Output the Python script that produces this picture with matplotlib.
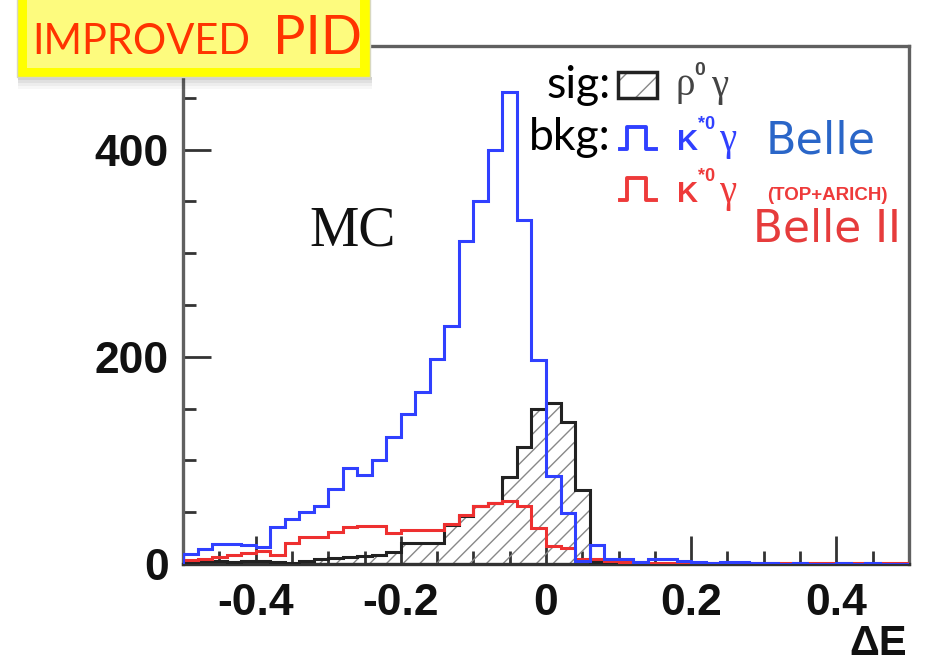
import numpy as np
import matplotlib
matplotlib.use('Agg')
import matplotlib.pyplot as plt
from matplotlib.patches import Rectangle
from matplotlib.lines import Line2D

# 50 bins of width 0.02 from -0.5 to 0.5
edges = np.round(np.linspace(-0.5, 0.5, 51), 3)

# signal rho0 gamma (black, hatched)
sig = [2, 3, 3, 2, 3, 3, 2, 1, 3, 5,
       6, 7, 8, 9, 12, 20, 20, 20, 38, 46,
       56, 59, 84, 113, 150, 155, 137, 71, 2, 1,
       1, 0, 0, 0, 0, 0, 0, 0, 0, 0,
       0, 0, 0, 0, 0, 0, 0, 0, 0, 0]

# background K*0 gamma, Belle PID (blue)
bkg_belle = [10, 14, 19, 19, 18, 16, 36, 43, 50, 56,
             72, 93, 86, 100, 123, 145, 166, 198, 230, 312,
             350, 400, 456, 332, 197, 85, 49, 3, 18, 5,
             5, 2, 5, 5, 3, 2, 1, 2, 2, 1,
             1, 0, 1, 0, 0, 1, 0, 1, 0, 0]

# background K*0 gamma, Belle II PID (red)
bkg_belle2 = [4, 5, 7, 9, 11, 13, 9, 20, 26, 26,
              31, 36, 37, 37, 30, 33, 33, 33, 39, 47,
              56, 59, 61, 56, 35, 17, 15, 5, 5, 3,
              2, 2, 1, 1, 1, 1, 1, 1, 1, 1,
              1, 1, 1, 1, 1, 1, 1, 1, 1, 1]

W, H = 927, 663
fig = plt.figure(figsize=(W / 100, H / 100), dpi=100)
ax = fig.add_axes([183 / W, 1 - 564 / H, (909 - 183) / W, (564 - 46) / H])


def px(x, y):
    # pixel position (from top-left) to figure fraction
    return x / W, 1 - y / H


# histograms
ax.stairs(sig, edges, fill=True, facecolor='none', edgecolor='#888888',
          hatch='//', linewidth=0, zorder=2)
ax.stairs(sig, edges, color='#222222', linewidth=2.2, zorder=3)
ax.stairs(bkg_belle2, edges, color='#ee3030', linewidth=2.2, zorder=4)
ax.stairs(bkg_belle, edges, color='#3040ff', linewidth=2.2, zorder=5)

ax.set_xlim(-0.5, 0.5)
ax.set_ylim(0, 500)
ax.set_xticks([-0.4, -0.2, 0, 0.2, 0.4])
ax.set_xticklabels(['-0.4', '-0.2', '0', '0.2', '0.4'])
ax.set_xticks(np.arange(-0.45, 0.5, 0.05), minor=True)
ax.set_yticks([0, 200, 400])
ax.set_yticks(np.arange(0, 501, 50), minor=True)

for s in ax.spines.values():
    s.set_color('#606060')
    s.set_linewidth(2.4)
ax.spines['bottom'].set_color('#333333')

ax.tick_params(which='both', direction='in', color='#333333', width=2,
               top=False, right=False)
ax.tick_params(which='major', length=20)
ax.tick_params(which='minor', length=9.5)
ax.tick_params(axis='x', which='major', pad=14)
ax.tick_params(axis='y', which='major', pad=10)
for lab in ax.get_xticklabels() + ax.get_yticklabels():
    lab.set_fontfamily('Liberation Sans')
    lab.set_fontweight('bold')
    lab.set_fontsize(32)
    lab.set_color('#111111')

fig.text(*px(907, 655), 'ΔE', ha='right', va='baseline',
         fontfamily='Liberation Sans', fontweight='bold', fontsize=30,
         color='#111111')

# MC label
fig.text(*px(309, 245), 'MC', ha='left', va='baseline',
         fontfamily='Liberation Serif', fontsize=40, color='#111111')

# legend
fig.text(*px(611, 98), 'sig:', ha='right', va='baseline',
         fontfamily='Lato', fontsize=32, color='black')
fig.text(*px(611, 150), 'bkg:', ha='right', va='baseline',
         fontfamily='Lato', fontsize=32, color='black')

x0, y0 = px(618, 98)
x1, y1 = px(657, 72)
fig.add_artist(Rectangle((x0, y0), x1 - x0, y1 - y0, transform=fig.transFigure,
                         facecolor='white', edgecolor='#888888', hatch='/',
                         linewidth=0, zorder=5))
fig.add_artist(Rectangle((x0, y0), x1 - x0, y1 - y0, transform=fig.transFigure,
                         facecolor='none', edgecolor='#222222',
                         linewidth=2.5, zorder=6))
fig.text(*px(676, 95), 'ρ', ha='left', va='baseline',
         fontfamily='Liberation Serif', fontsize=28, color='#444444')
fig.text(*px(694, 75), '0', ha='left', va='baseline',
         fontfamily='Liberation Sans', fontweight='bold', fontsize=14,
         color='#444444')
fig.text(*px(711, 96), 'γ', ha='left', va='baseline',
         fontfamily='Liberation Serif', fontsize=28, color='#444444')


def pulse(ytop, ybot, color):
    xs = [620, 627, 627, 646, 646, 656]
    ys = [ybot, ybot, ytop, ytop, ybot, ybot]
    fx = [x / W for x in xs]
    fy = [1 - y / H for y in ys]
    fig.add_artist(Line2D(fx, fy, transform=fig.transFigure, color=color,
                          linewidth=2.8, zorder=6))


def kstar(y, color):
    fig.text(*px(677, y), 'K', ha='left', va='baseline',
             fontfamily='Liberation Sans', fontweight='bold', fontsize=21,
             color=color)
    fig.text(*px(698, y - 21), '*0', ha='left', va='baseline',
             fontfamily='Liberation Sans', fontweight='bold', fontsize=13,
             color=color)
    fig.text(*px(719, y), 'γ', ha='left', va='baseline',
             fontfamily='Liberation Serif', fontsize=28, color=color)


pulse(127, 149, '#3040ff')
kstar(150, '#3040ff')
fig.text(*px(766, 153), 'Belle', ha='left', va='baseline',
         fontfamily='DejaVu Sans', fontsize=32, color='#2a66c8')

pulse(178, 200, '#ee3a3a')
kstar(202, '#ee3a3a')
fig.text(*px(767, 200), '(TOP+ARICH)', ha='left', va='baseline',
         fontfamily='Liberation Sans', fontweight='bold', fontsize=13.5,
         color='#ee3a3a')
fig.text(*px(901, 242), 'Belle II', ha='right', va='baseline',
         fontfamily='DejaVu Sans', fontsize=31.5, color='#e63c3c')

# yellow "IMPROVED PID" box on top of the frame
for i, a in enumerate([0.18, 0.12, 0.07, 0.03]):
    sx, sy = px(18, 77 + 3 * i + 3)
    ex, ey = px(372, 77 + 3 * i)
    fig.add_artist(Rectangle((sx, sy), ex - sx, ey - sy, transform=fig.transFigure,
                             facecolor='black', alpha=a, linewidth=0, zorder=7))
ox0, oy0 = px(17, 77)
ox1, oy1 = px(370, -5)
fig.add_artist(Rectangle((ox0, oy0), ox1 - ox0, oy1 - oy0, transform=fig.transFigure,
                         facecolor='#ffff00', edgecolor='#d8d8c0',
                         linewidth=1, zorder=8))
ix0, iy0 = px(27, 68)
ix1, iy1 = px(360, -5)
fig.add_artist(Rectangle((ix0, iy0), ix1 - ix0, iy1 - iy0, transform=fig.transFigure,
                         facecolor='#fdfb7e', linewidth=0, zorder=9))
fig.text(*px(32, 54), 'IMPROVED', ha='left', va='baseline',
         fontfamily='Lato', fontsize=30, color='#ff3300', zorder=10)
fig.text(*px(273, 54), 'PID', ha='left', va='baseline',
         fontfamily='Lato', fontsize=39, color='#ff3300', zorder=10)

fig.savefig('out.png', dpi=100)
